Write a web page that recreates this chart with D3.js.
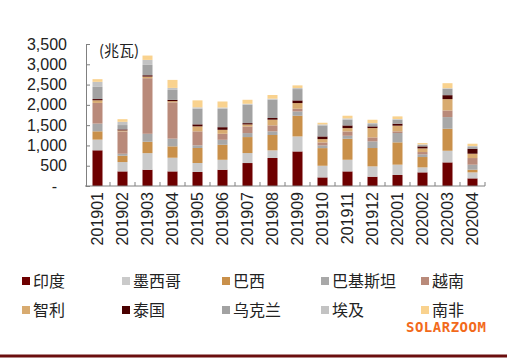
<!DOCTYPE html>
<html><head><meta charset="utf-8">
<script src="https://cdn.jsdelivr.net/npm/d3@7"></script>
<style>
html,body{margin:0;padding:0;background:#fff;}
svg{display:block;}
</style></head>
<body>
<svg id="chart" width="507" height="360"></svg>
<script>
const categories = ["201901","201902","201903","201904","201905","201906","201907","201908","201909","201910","201911","201912","202001","202002","202003","202004"];
const seriesNames = ["印度","墨西哥","巴西","巴基斯坦","越南","智利","泰国","乌克兰","埃及","南非"];
const india     = [880, 360, 400, 360, 345, 400, 566, 690, 852, 212, 360, 229, 271, 336, 582, 188];
const mexico    = [263, 230, 410, 337, 222, 246, 246, 189, 370, 287, 287, 255, 255, 123, 287, 148];
const brazil    = [205, 155, 280, 280, 370, 370, 394, 378, 509, 435, 517, 452, 550, 255, 542, 66];
const pakistan  = [190, 50, 197, 190, 65, 123, 98, 90, 107, 66, 74, 164, 230, 66, 287, 123];
const vietnam   = [510, 550, 1370, 895, 345, 148, 164, 148, 66, 74, 107, 98, 41, 57, 164, 164];
const chile     = [65, 25, 40, 30, 123, 98, 49, 140, 140, 82, 82, 230, 140, 90, 279, 107];
const thailand  = [30, 25, 33, 30, 50, 65, 33, 41, 66, 66, 66, 41, 49, 49, 98, 123];
const ukraine   = [300, 107, 255, 246, 386, 452, 452, 452, 279, 271, 140, 57, 98, 33, 156, 41];
const egypt     = [125, 80, 123, 50, 33, 33, 25, 25, 25, 25, 33, 25, 16, 16, 16, 25];
const southAfrica = [65, 65, 107, 197, 172, 148, 98, 90, 66, 41, 66, 82, 66, 33, 123, 57];
const seriesValues = [india, mexico, brazil, pakistan, vietnam, chile, thailand, ukraine, egypt, southAfrica];
const colors = ["#6e0000","#cacaca","#c9904a","#a8a8a8","#b98a7a","#d8ab70","#4a0000","#a2a2a2","#c3c3c3","#f9d28e"];
const yTicks = [0, 500, 1000, 1500, 2000, 2500, 3000, 3500];
const yUnit = "(兆瓦)";
const brand = "SOLARZOOM";

const svg = d3.select("#chart");
const x = d3.scaleBand().domain(categories).range([85, 485]).paddingInner(0.6).paddingOuter(0.3);
const y = d3.scaleLinear().domain([0, 3500]).range([186, 44]);

const rows = categories.map((c, i) => {
  const o = {cat: c};
  seriesNames.forEach((s, j) => o[s] = seriesValues[j][i]);
  return o;
});
const stacked = d3.stack().keys(seriesNames)(rows);

svg.append("g").selectAll("g").data(stacked).join("g")
  .attr("fill", (d, i) => colors[i])
  .selectAll("rect").data(d => d).join("rect")
  .attr("x", d => x(d.data.cat))
  .attr("width", x.bandwidth())
  .attr("y", d => y(d[1]))
  .attr("height", d => y(d[0]) - y(d[1]));

// Y axis
const yAxis = d3.axisLeft(y).tickValues(yTicks).tickSizeInner(-4).tickSizeOuter(0).tickPadding(19)
  .tickFormat(d => d === 0 ? "-" : d3.format(",")(d));
const gy = svg.append("g").attr("transform", "translate(86,0)").call(yAxis);
gy.select(".domain").attr("stroke", "#808080");
gy.selectAll(".tick line").attr("stroke", "#808080");
gy.selectAll(".tick text").attr("font-family", "Liberation Sans, Arial, sans-serif").attr("font-size", 16).attr("fill", "#222")
  .attr("dx", d => d === 0 ? -10 : 0);

// X axis
svg.append("line").attr("x1", 85).attr("x2", 485).attr("y1", y(0)).attr("y2", y(0)).attr("stroke", "#808080");
const bounds = categories.map(c => x(c) + x.bandwidth() / 2 + x.step() / 2);
svg.append("g").selectAll("line").data(bounds).join("line")
  .attr("x1", d => d).attr("x2", d => d).attr("y1", y(0)).attr("y2", y(0) - 4).attr("stroke", "#808080");
svg.append("g").selectAll("text").data(categories).join("text")
  .attr("transform", d => `translate(${x(d) + x.bandwidth() / 2},${y(0) + 6}) rotate(-90)`)
  .attr("text-anchor", "end").attr("dy", "0.35em")
  .attr("font-family", "Liberation Sans, Arial, sans-serif").attr("font-size", 16).attr("fill", "#222")
  .text(d => d);

svg.append("text").attr("x", 99).attr("y", 56).attr("font-family", "Noto Sans CJK SC, sans-serif")
  .attr("font-size", 15).attr("fill", "#222").text(yUnit);

// Legend
const legX = [22, 122, 222, 321, 421];
const legY = [281, 310];
const leg = svg.append("g").selectAll("g").data(seriesNames).join("g")
  .attr("transform", (d, i) => `translate(${legX[i % 5]},${legY[Math.floor(i / 5)]})`);
leg.append("rect").attr("x", 0).attr("y", -4).attr("width", 8).attr("height", 8).attr("fill", (d, i) => colors[i]);
leg.append("text").attr("x", 11).attr("y", 0).attr("dy", "0.35em")
  .attr("font-family", "Noto Sans CJK SC, sans-serif").attr("font-size", 16).attr("fill", "#222").text(d => d);

svg.append("text").attr("x", 406).attr("y", 332).attr("font-family", "DejaVu Sans Mono, monospace")
  .attr("font-weight", "bold").attr("font-size", 14).attr("letter-spacing", 0.5).attr("fill", "#f26a1b").text(brand);

svg.append("line").attr("x1", 0).attr("x2", 507).attr("y1", 356).attr("y2", 356).attr("stroke", "#6b0e0e").attr("stroke-width", 3);
</script>
</body></html>
